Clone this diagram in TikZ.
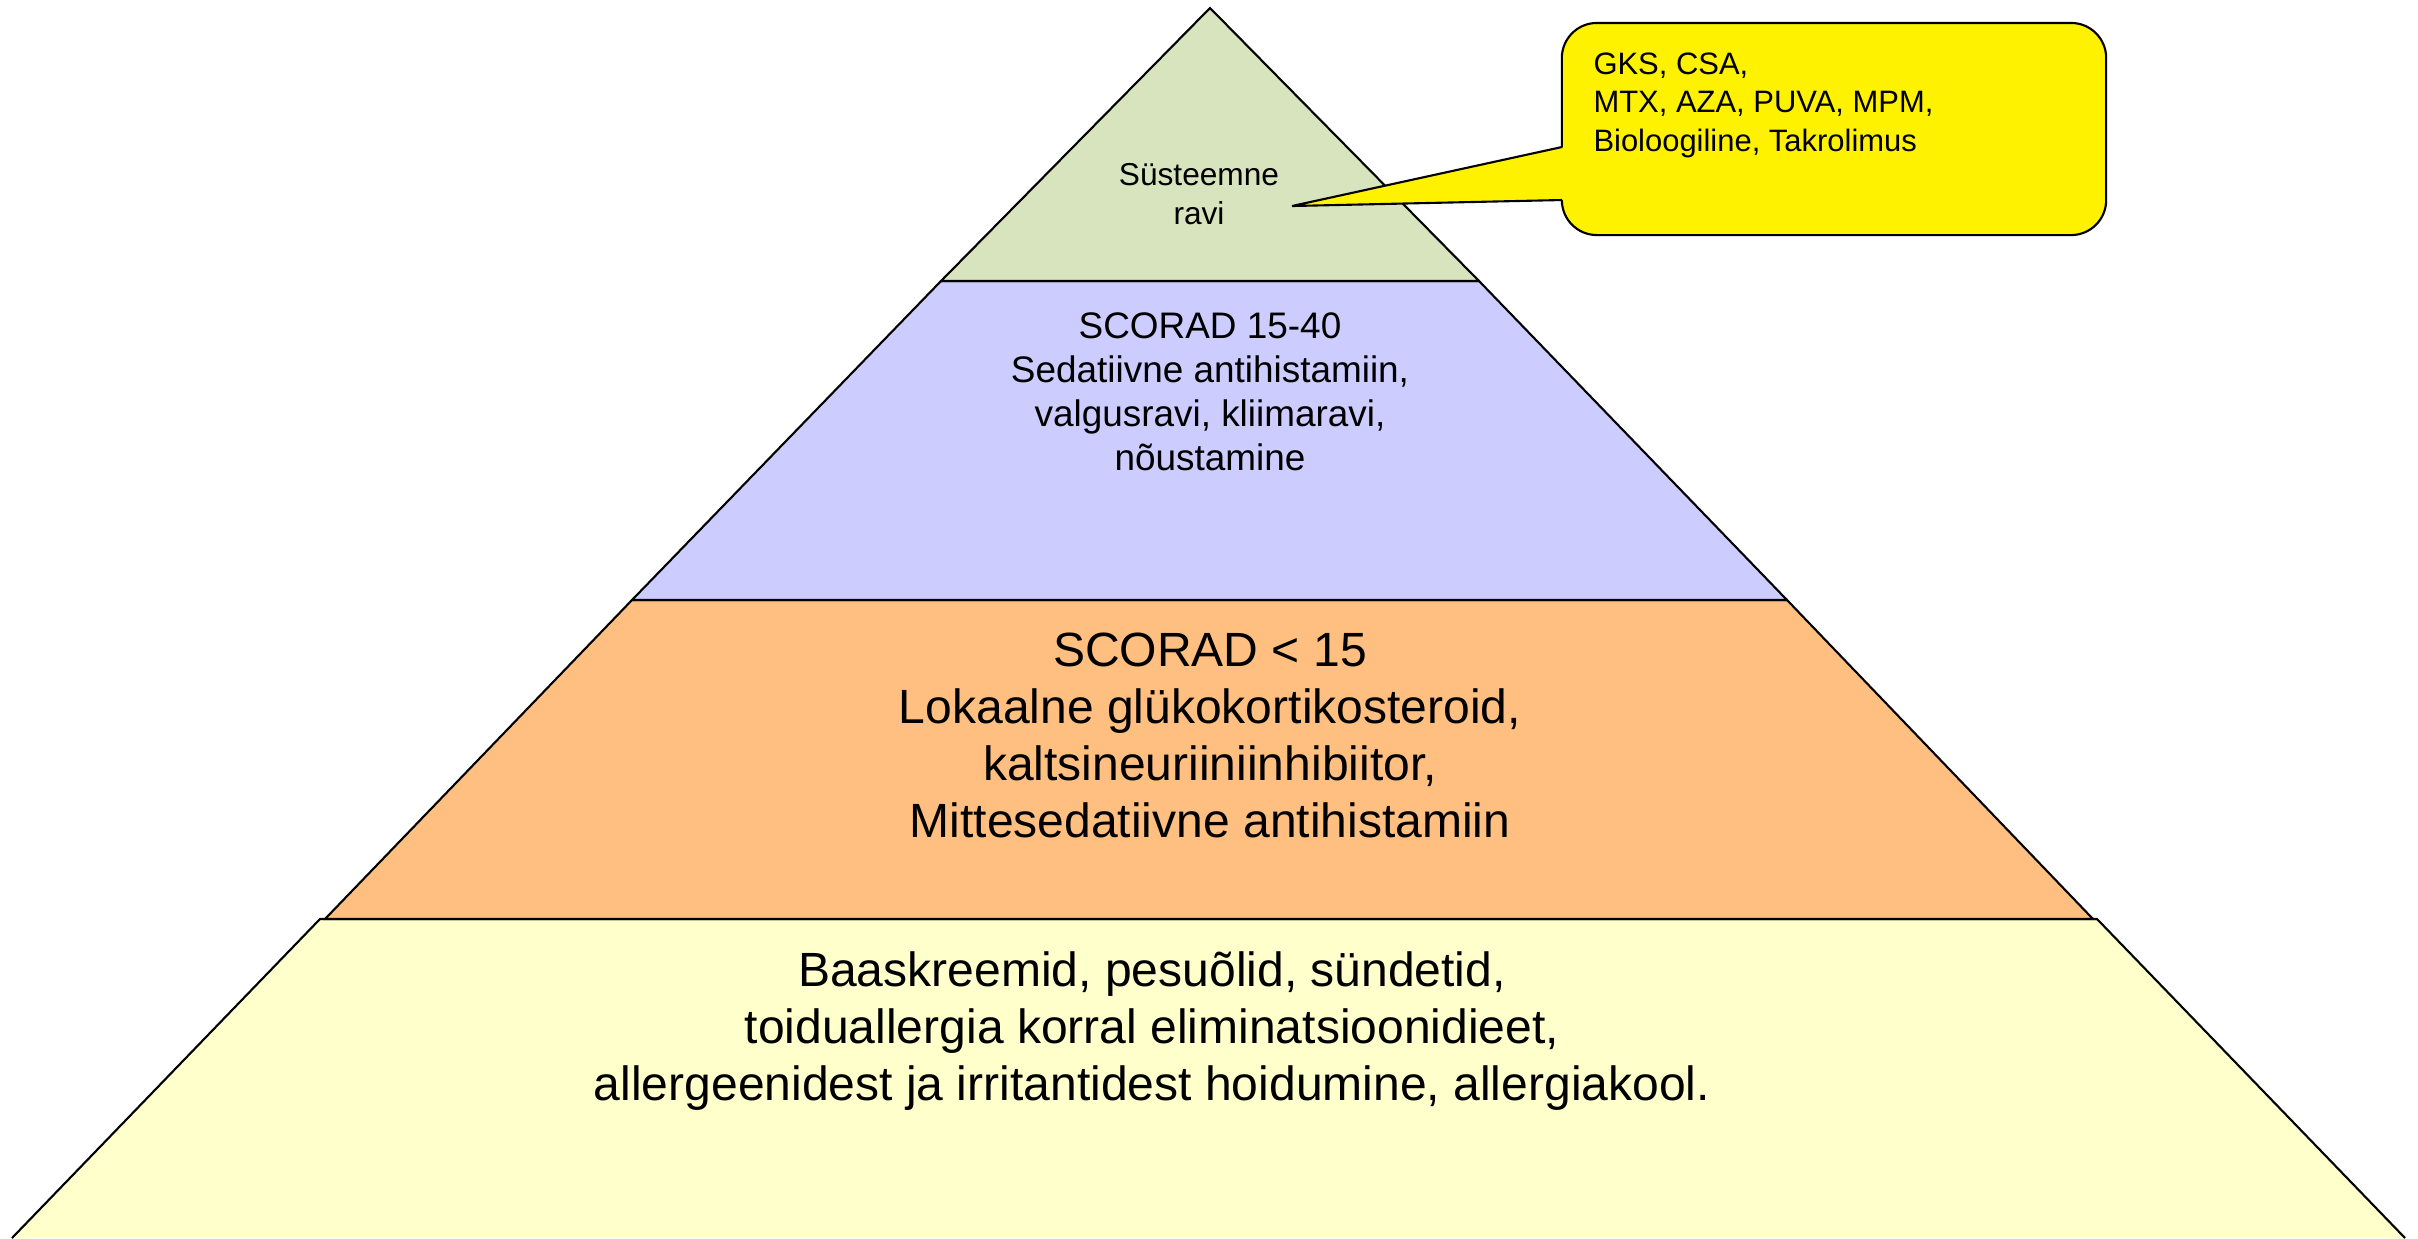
\documentclass[tikz,border=0pt]{standalone}
\usepackage{fontspec}
\setmainfont{Liberation Sans}
\usetikzlibrary{positioning}

\definecolor{topgreen}{RGB}{215,228,189}
\definecolor{midblue}{RGB}{204,204,255}
\definecolor{loworange}{RGB}{255,191,128}
\definecolor{basecream}{RGB}{255,255,204}

\begin{document}
\begin{tikzpicture}[x=0.01cm,y=-0.01cm,
  layer/.style={draw=black,line width=0.6pt},
  lbl/.style={align=center,inner sep=0pt}]
 \useasboundingbox (0,0) rectangle (2418,1238);
 % pyramid bands, bottom up
 \draw[layer,fill=basecream](12,1238)--(320,919)--(2097,919)--(2405,1238);
 \draw[layer,fill=loworange](325,919)--(632,600)--(1787,600)--(2093,919)--cycle;
 \draw[layer,fill=midblue](632,600)--(941,281)--(1479,281)--(1787,600)--cycle;
 \draw[layer,fill=topgreen](941,281)--(1210,8)--(1479,281)--cycle;
 \node[lbl,font=\fontsize{13.66}{16.2}\selectfont] (base) at (1152,1031)
   {Baaskreemid, pesuõlid, sündetid,\\toiduallergia korral eliminatsioonidieet,\\allergeenidest ja irritantidest hoidumine, allergiakool.};
 \node[lbl,font=\fontsize{13.66}{16.2}\selectfont] (low) at (1210,735)
   {SCORAD < 15\\Lokaalne glükokortikosteroid,\\kaltsineuriiniinhibiitor,\\Mittesedatiivne antihistamiin};
 \node[lbl,font=\fontsize{10.5}{12.5}\selectfont] (mid) at (1210,392)
   {SCORAD 15-40\\Sedatiivne antihistamiin,\\valgusravi, kliimaravi,\\nõustamine};
 \node[lbl,font=\fontsize{9}{11.1}\selectfont] (top) at (1199,194) {Süsteemne\\ravi};
 % callout
 \node[layer,fill=yellow,rounded corners=0.35cm,minimum width=5.44cm,minimum height=2.12cm,inner sep=0pt] (callout) at (1834,129) {};
 \coordinate (tip) at (1292,206);
 \coordinate (pu) at (1562,147);
 \coordinate (pl) at (1562,200);
 \fill[yellow](tip)--([xshift=0.8pt]pu)--([xshift=0.8pt]pl)--cycle;
 \draw[layer](pu)--(tip)--(pl);
 \node[anchor=north west,align=left,inner sep=0pt,font=\fontsize{8.8}{10.95}\selectfont] (drugs)
   at ([xshift=0.32cm,yshift=-0.3cm]callout.north west) {GKS, CSA,\\MTX, AZA, PUVA, MPM,\\Bioloogiline, Takrolimus};
\end{tikzpicture}
\end{document}
